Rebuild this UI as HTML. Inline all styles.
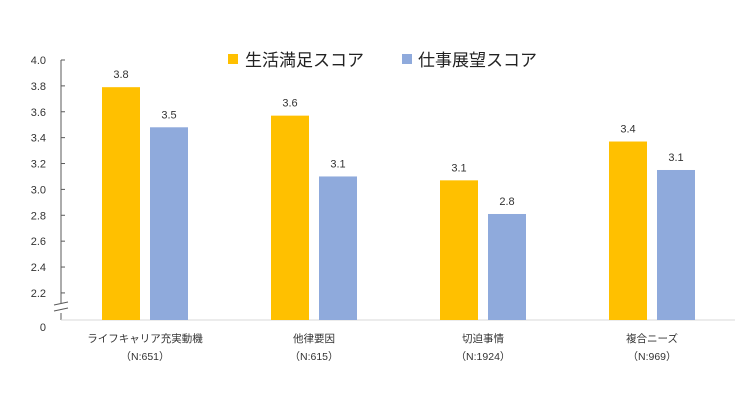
<!DOCTYPE html>
<html><head><meta charset="utf-8"><style>
html,body{margin:0;padding:0;background:#fff;}
svg{display:block;font-family:"Liberation Sans","Noto Sans CJK JP",sans-serif;}
</style></head><body>
<svg id="chart" width="750" height="409">
<g id="legend">
<rect x="228" y="54" width="10" height="10" fill="#FFC000"/>
<text x="245" y="66" font-size="17" fill="#222">生活満足スコア</text>
<rect x="402" y="54" width="10" height="10" fill="#8FAADC"/>
<text x="418" y="66" font-size="17" fill="#222">仕事展望スコア</text>
</g>
<g id="axis"></g>
<g id="bars"></g>
<g id="cats"></g>
</svg>
<script>
const categories = ["ライフキャリア充実動機","他律要因","切迫事情","複合ニーズ"];
const sampleLabels = ["（N:651）","（N:615）","（N:1924）","（N:969）"];
const lifeScores = [3.79, 3.57, 3.07, 3.37];
const workScores = [3.48, 3.10, 2.81, 3.15];
const lifeLabels = ["3.8","3.6","3.1","3.4"];
const workLabels = ["3.5","3.1","2.8","3.1"];
const tickValues = [2.2,2.4,2.6,2.8,3.0,3.2,3.4,3.6,3.8,4.0];
const tickLabels = ["2.2","2.4","2.6","2.8","3.0","3.2","3.4","3.6","3.8","4.0"];

const NS="http://www.w3.org/2000/svg";
const baseY=320, axisX=61;
function y(v){ return 60 + (4.0 - v) * 129.4; }
function groupX(i){ return 145 + i * 169; }
function mk(tag, attrs, parent){ const e=document.createElementNS(NS,tag); for(const k in attrs) e.setAttribute(k,attrs[k]); parent.appendChild(e); return e; }

const axis=document.getElementById('axis');
let l=mk('line',{x1:axisX,y1:y(4.0),x2:axisX,y2:303,stroke:'#595959','stroke-width':1},axis);


l=mk('line',{x1:axisX,y1:313,x2:axisX,y2:baseY,stroke:'#595959','stroke-width':1},axis);


l=mk('path',{d:'M54 305 L68 302 M54 311 L68 308',stroke:'#595959','stroke-width':1,fill:'none'},axis);


l=mk('line',{x1:axisX,y1:baseY,x2:735,y2:baseY,stroke:'#d9d9d9','stroke-width':1},axis);


tickValues.forEach((v,i)=>{
  const t=mk('line',{x1:axisX,y1:y(v),x2:axisX+4,y2:y(v),stroke:'#595959'},axis);
  
  
  const tx=mk('text',{x:46,y:y(v)+4,'font-size':11,fill:'#333','text-anchor':'end'},axis);
  tx.textContent=tickLabels[i];
  
  
});
const z=mk('text',{x:46,y:331,'font-size':11,fill:'#333','text-anchor':'end'},axis);
z.textContent='0';



const bars=document.getElementById('bars'), cats=document.getElementById('cats');
categories.forEach((c,i)=>{
  const gx=groupX(i);
  [[lifeScores,lifeLabels,'#FFC000',-43,'life'],[workScores,workLabels,'#8FAADC',5,'work']].forEach(([vals,labs,col,off,nm])=>{
    const r=mk('rect',{x:gx+off,y:y(vals[i]),width:38,height:baseY-y(vals[i]),fill:col},bars);
    
    
    const t=mk('text',{x:gx+off+19,y:y(vals[i])-9,'font-size':11,fill:'#333','text-anchor':'middle'},bars);
    t.textContent=labs[i];
    
    
  });
  const t1=mk('text',{x:gx,y:342,'font-size':10.5,fill:'#333','text-anchor':'middle'},cats);
  t1.textContent=c;
  
  
  const t2=mk('text',{x:gx,y:360,'font-size':10.5,fill:'#333','text-anchor':'middle'},cats);
  t2.textContent=sampleLabels[i];
  
  
});
</script>
</body></html>
